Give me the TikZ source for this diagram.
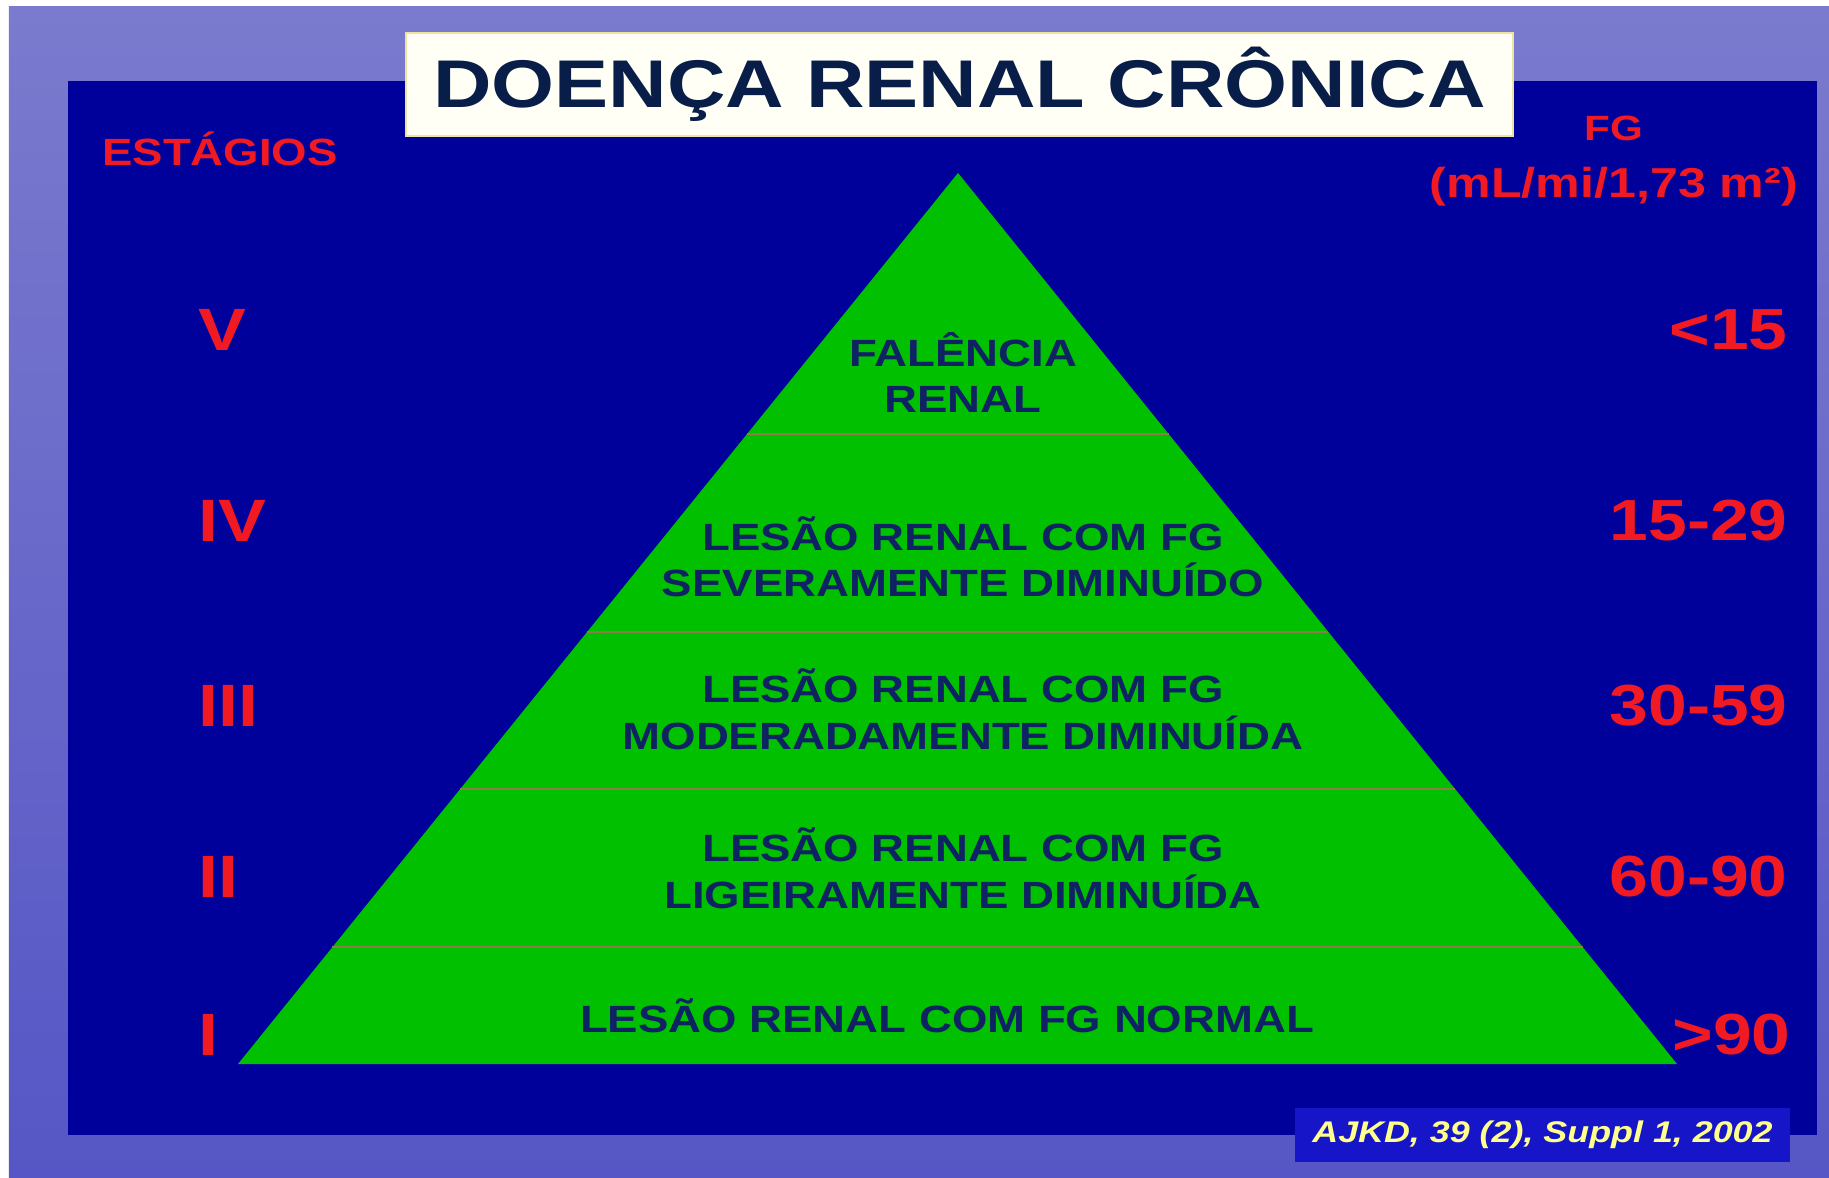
\documentclass[tikz,border=0pt]{standalone}
\usepackage{fontspec}
\setmainfont{Liberation Sans}[FakeStretch=1.2]
\usetikzlibrary{calc}

\definecolor{slidetop}{RGB}{122,122,206}
\definecolor{slidebottom}{RGB}{86,86,198}
\definecolor{panelblue}{RGB}{0,0,155}
\definecolor{pyrgreen}{RGB}{0,192,0}
\definecolor{stagered}{RGB}{242,26,34}
\definecolor{navytext}{RGB}{14,34,100}
\definecolor{titlenavy}{RGB}{8,30,72}
\definecolor{creamfill}{RGB}{255,255,246}
\definecolor{creamedge}{RGB}{236,228,160}
\definecolor{citeblue}{RGB}{22,22,200}
\definecolor{citeyellow}{RGB}{255,255,140}
\definecolor{bandline}{RGB}{138,128,70}

\begin{document}
\begin{tikzpicture}[
    stage/.style={text=stagered, font=\bfseries\fontsize{34}{40}\selectfont, inner sep=0pt, anchor=west},
    rate/.style={text=stagered, font=\bfseries\fontsize{33}{40}\selectfont, inner sep=0pt, anchor=east},
    layer/.style={text=navytext, font=\bfseries\fontsize{21.6}{26.5}\selectfont, align=center, inner sep=0pt},
    band/.style={draw=bandline, line width=1.2pt}
]

\useasboundingbox (0,0) rectangle (36.58,23.54);
\fill[white] (0,0) rectangle (36.58,23.54);
\shade[top color=slidetop, bottom color=slidebottom] (0.18,0) rectangle (36.58,23.40);
\fill[panelblue] (1.36,0.84) rectangle (36.34,21.92);

% pyramid
\coordinate (Apex) at (19.16,20.08);
\coordinate (BaseL) at (4.76,2.26);
\coordinate (BaseR) at (33.54,2.26);
\fill[pyrgreen] (Apex) -- (BaseL) -- (BaseR) -- cycle;

\draw[band] ($(Apex)!0.293!(BaseL)$) -- ($(Apex)!0.293!(BaseR)$);
\draw[band] ($(Apex)!0.515!(BaseL)$) -- ($(Apex)!0.515!(BaseR)$);
\draw[band] ($(Apex)!0.691!(BaseL)$) -- ($(Apex)!0.691!(BaseR)$);
\draw[band] ($(Apex)!0.869!(BaseL)$) -- ($(Apex)!0.869!(BaseR)$);

\node (L5) at (19.26,16.09) [layer] {FALÊNCIA\\RENAL};
\node (L4) at (19.26,12.40) [layer] {LESÃO RENAL COM FG\\SEVERAMENTE DIMINUÍDO};
\node (L3) at (19.26,9.35) [layer] {LESÃO RENAL COM FG\\MODERADAMENTE DIMINUÍDA};
\node (L2) at (19.26,6.18) [layer] {LESÃO RENAL COM FG\\LIGEIRAMENTE DIMINUÍDA};
\node (L1) at (18.94,3.22) [layer] {LESÃO RENAL COM FG NORMAL};

% title
\node (Title) at (19.19,21.85) [draw=creamedge, line width=1pt, fill=creamfill, minimum width=22.14cm, minimum height=2.06cm, text=titlenavy, font=\bfseries\fontsize{38.4}{44}\selectfont] {DOENÇA RENAL CRÔNICA};

% stages
\node (Stages) at (4.40,20.56) [text=stagered, font=\bfseries\fontsize{21.6}{26}\selectfont, inner sep=0pt] {ESTÁGIOS};
\node (S5) at (3.96,16.94) [stage] {V};
\node (S4) at (3.96,13.12) [stage] {IV};
\node (S3) at (3.96,9.42) [stage] {III};
\node (S2) at (3.96,6.00) [stage] {II};
\node (S1) at (3.96,2.84) [stage] {I};

% filtration
\node (FG) at (32.28,20.98) [text=stagered, font=\bfseries\fontsize{20}{24}\selectfont, inner sep=0pt] {FG};
\node (Unit) at (32.28,19.80) [text=stagered, font=\bfseries\fontsize{23.8}{27}\selectfont, inner sep=0pt] {(mL/mi/1,73 m²)};
\node (R5) at (35.76,16.94) [rate] {<15};
\node (R4) at (35.76,13.12) [rate] {15-29};
\node (R3) at (35.76,9.42) [rate] {30-59};
\node (R2) at (35.76,6.00) [rate] {60-90};
\node (R1) at (35.82,2.84) [rate] {>90};

% source
\node (Cite) at (30.85,0.84) [fill=citeblue, minimum width=9.9cm, minimum height=1.08cm, text=citeyellow, font=\bfseries\itshape\fontsize{17}{20}\selectfont] {AJKD, 39 (2), Suppl 1, 2002};

\end{tikzpicture}
\end{document}
